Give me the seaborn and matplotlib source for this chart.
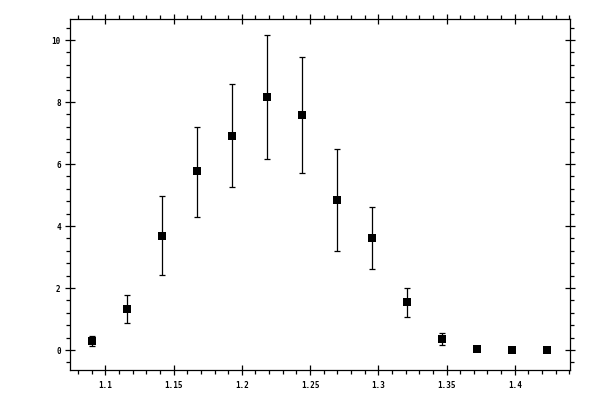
import numpy as np
import pandas as pd
import matplotlib
matplotlib.use("Agg")
import matplotlib.pyplot as plt
import seaborn as sns
from matplotlib.ticker import MultipleLocator

# values
x_vals = [1.0905, 1.1161, 1.1418, 1.1674, 1.1930, 1.2186, 1.2443,
          1.2699, 1.2955, 1.3211, 1.3468, 1.3724, 1.3980, 1.4236]
y_vals = [0.28, 1.31, 3.67, 5.76, 6.92, 8.15, 7.57,
          4.83, 3.63, 1.54, 0.34, 0.03, 0.0, 0.0]
y_low = [0.13, 0.86, 2.41, 4.28, 5.25, 6.15, 5.70,
         3.18, 2.60, 1.05, 0.15, -0.03, 0.0, 0.0]
y_high = [0.44, 1.76, 4.96, 7.21, 8.57, 10.15, 9.44,
          6.47, 4.63, 1.99, 0.54, 0.07, 0.0, 0.0]

df = pd.DataFrame({"x": x_vals, "y": y_vals, "lo": y_low, "hi": y_high})

sns.set_style("ticks")
plt.rcParams['font.family'] = ['DejaVu Sans Mono', 'DejaVu Sans']

fig = plt.figure(figsize=(6, 4), dpi=100)
ax = fig.add_axes([0.116, 0.075, 0.834, 0.8775])

ax.errorbar(df["x"], df["y"], yerr=[df["y"] - df["lo"], df["hi"] - df["y"]],
            fmt="none", ecolor="black", elinewidth=0.9, capsize=2.4, capthick=0.9)
sns.scatterplot(data=df, x="x", y="y", marker="s", s=36, color="black",
                edgecolor="black", linewidth=0, ax=ax, zorder=3)

ax.set_xlim(1.0738, 1.4405)
ax.set_ylim(-0.645, 10.68)
ax.xaxis.set_minor_locator(MultipleLocator(0.01))
ax.yaxis.set_minor_locator(MultipleLocator(0.4))
ax.set_xticks([1.1, 1.15, 1.2, 1.25, 1.3, 1.35, 1.4])
ax.set_xticklabels(["1.1", "1.15", "1.2", "1.25", "1.3", "1.35", "1.4"],
                   fontweight="bold")
ax.set_yticks([0, 2, 4, 6, 8, 10])
ax.set_yticklabels(["0", "2", "4", "6", "8", "10"], fontweight="bold")
ax.set_xlabel("")
ax.set_ylabel("")

ax.tick_params(which="major", direction="inout", length=6.8, width=0.9,
               top=True, right=True, labelsize=5.5, labelcolor="black",
               color="black", pad=3)
ax.tick_params(which="minor", direction="out", length=2.6, width=0.9,
               top=True, right=True, color="black")
ax.tick_params(axis="x", which="major", pad=4.5)
for s in ax.spines.values():
    s.set_visible(True)
    s.set_linewidth(0.9)
    s.set_color("black")

fig.savefig("out.png", dpi=100)
